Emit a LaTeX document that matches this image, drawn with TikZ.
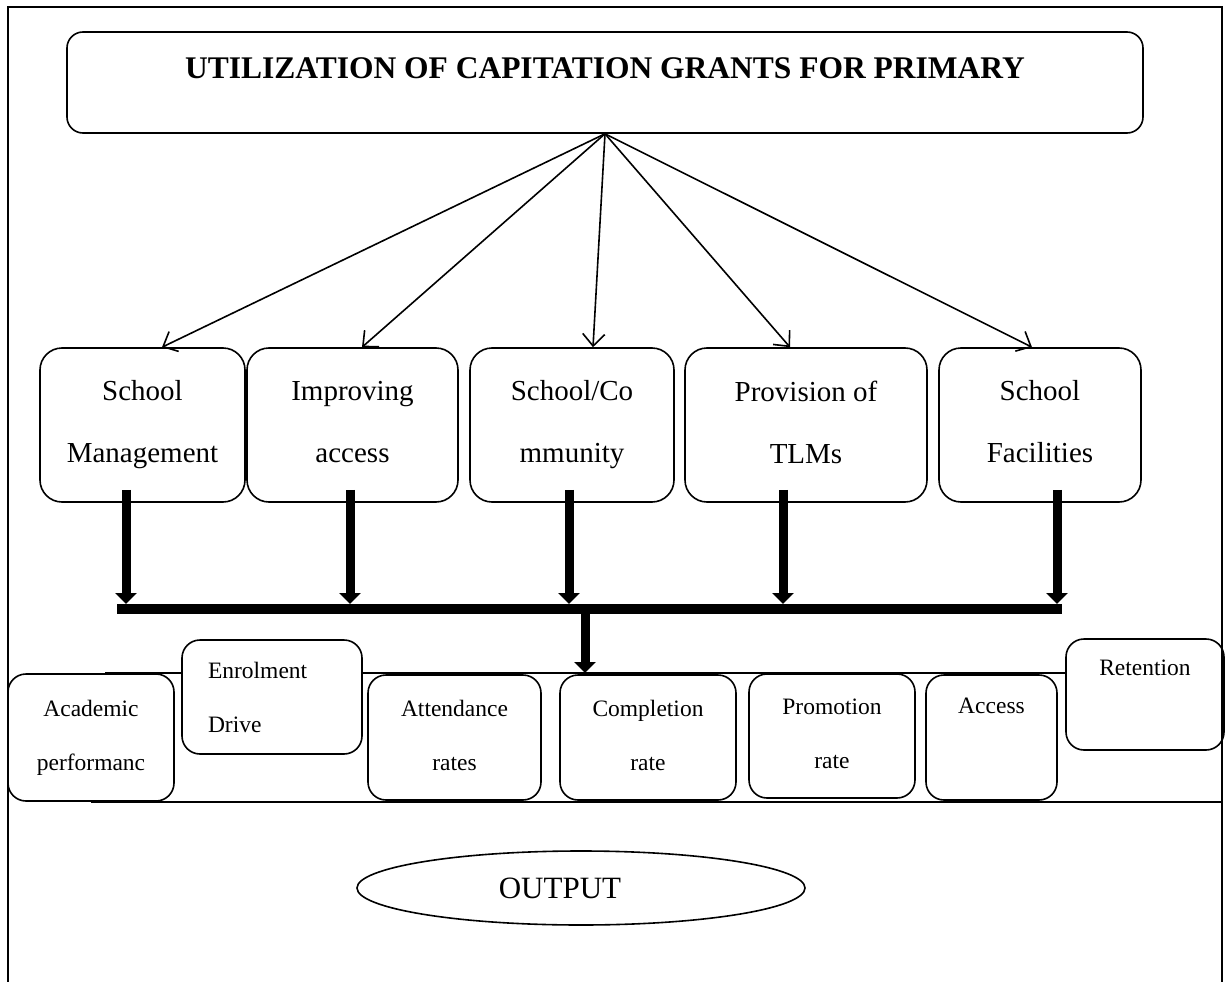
\documentclass[tikz,border=0pt]{standalone}
\usepackage{fontspec}
\setmainfont{Liberation Serif}
\usetikzlibrary{arrows.meta,shapes.geometric}

\begin{document}
\begin{tikzpicture}[x=1pt,y=-1pt,
    box/.style={draw, line width=1.6pt, rounded corners=22pt, align=center},
    midbox/.style={box, minimum height=154pt, font=\fontsize{29}{62}\selectfont},
    lowbox/.style={box, rounded corners=18pt, font=\fontsize{23.5}{54}\selectfont},
    thin arrow/.style={line width=1.6pt, -{Straight Barb[length=12pt,width=22pt]}},
    fat arrow/.style={line width=9pt, -{Triangle[length=11pt,width=21pt]}}]
    \useasboundingbox (0,0) rectangle (1227,982);

    % Frame
    \draw[line width=1.6pt] (8,990) -- (8,7) -- (1222,7) -- (1222,990);

    % Title
    \node[box, rounded corners=16pt, minimum width=1076pt, minimum height=101pt,
          font=\fontsize{31.5}{38}\selectfont\bfseries,
          text height=23pt, text depth=32pt] (title) at (605,82.5)
          {UTILIZATION OF CAPITATION GRANTS FOR PRIMARY};

    % Uses of the grant
    \node[midbox, minimum width=205pt] (mgmt)   at (142.5,425) {School\\Management};
    \node[midbox, minimum width=211pt] (access) at (352.5,425) {Improving\\access\vphantom{g}};
    \node[midbox, minimum width=204pt] (comm)   at (572,425)   {School/Co\\mmunity};
    \node[midbox, minimum width=242pt] (tlm)    at (806,425)   {Provision of\\TLMs\vphantom{g}};
    \node[midbox, minimum width=202pt] (facil)  at (1040,425)  {School\\Facilities\vphantom{g}};

    \foreach \n/\dx in {mgmt/19.5, access/9.5, comm/21, tlm/-16, facil/-8}
        \draw[thin arrow] (title.south) -- ([xshift=\dx pt]\n.north);

    % Bar
    \coordinate (barL) at (117,609);
    \coordinate (barR) at (1062,609);
    \coordinate (hub)  at (585,609);
    \draw[line width=10pt] (barL) -- (barR);

    \foreach \n/\dx in {mgmt/-16.5, access/-2.5, comm/-3, tlm/-23, facil/17}
        \draw[fat arrow] ([xshift=\dx pt, yshift=13pt]\n.south)
            -- ([xshift=\dx pt, yshift=5pt]\n.south |- barL);

    % Outcomes
    \node[lowbox, minimum width=166pt, minimum height=127pt] (acad) at (91,737.5) {Academic\\performanc};
    \node[lowbox, minimum width=180pt, minimum height=114pt, text width=128pt, align=left] (enrol) at (272,697) {Enrolment\\Drive};
    \node[lowbox, minimum width=173pt, minimum height=125pt] (attend) at (454.5,737.5) {Attendance\\rates\vphantom{p}};
    \node[lowbox, minimum width=176pt, minimum height=125pt] (compl)  at (648,737.5)   {Completion\\rate\vphantom{p}};
    \node[lowbox, minimum width=166pt, minimum height=124pt] (promo)  at (832,736)     {Promotion\\rate\vphantom{p}};
    \node[lowbox, minimum width=131pt, minimum height=125pt,
          text height=16.5pt, text depth=65.5pt] (acc) at (991.5,737.5) {Access};
    \node[lowbox, minimum width=158pt, minimum height=111pt,
          text height=16.5pt, text depth=55.5pt] (retain) at (1145,694.5) {Retention};

    \coordinate (rowL) at (105,673);
    \coordinate (frameSE) at (1222,982);
    \draw[line width=1.6pt] (rowL) -- (enrol.west |- rowL);
    \draw[line width=1.6pt] (enrol.east |- rowL) -- (retain.west |- rowL);
    \draw[line width=1.6pt] (acad.south) -- (acad.south -| frameSE);

    \draw[fat arrow] ([yshift=-5pt]hub) -- (hub |- rowL);

    % Output
    \node[draw, ellipse, line width=1.6pt, minimum width=448pt, minimum height=74pt,
          font=\fontsize{31}{37}\selectfont] (output) at (581,888) {OUTPUT\kern42pt};
\end{tikzpicture}
\end{document}
